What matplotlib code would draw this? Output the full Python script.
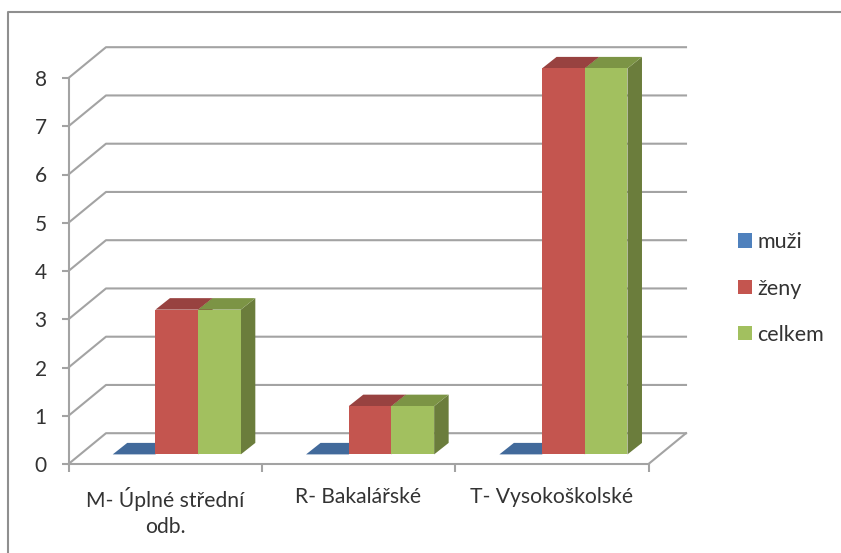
import matplotlib
matplotlib.use("Agg")
import matplotlib.pyplot as plt
from matplotlib.patches import Polygon, Patch
from matplotlib.lines import Line2D

categories = ["M- Úplné střední\nodb.", "R- Bakalářské", "T- Vysokoškolské"]
series_names = ["muži", "ženy", "celkem"]
muzi = [0, 0, 0]
zeny = [3, 1, 8]
celkem = [3, 1, 8]
y_ticks = [0, 1, 2, 3, 4, 5, 6, 7, 8]

front_c = ["#4F81BD", "#C4554F", "#A2C05F"]
top_c = ["#426A9B", "#984240", "#7C9445"]
side_c = ["#3A5F8C", "#8E3C3A", "#6B7D3C"]
line_c = "#A3A3A3"
text_c = "#333333"

plt.rcParams["font.family"] = ["Lato", "DejaVu Sans"]
W, H = 841, 553
fig = plt.figure(figsize=(W / 100, H / 100), dpi=100, facecolor="white")
L, R, B, T = 68.5, 648.5, 464.0, 78.0
ax = fig.add_axes([L / W, 1 - B / H, (R - L) / W, (B - T) / H])
ax.set_xlim(0, 3)
ax.set_ylim(0, 8)
ax.patch.set_visible(False)

px_x = 3 / (R - L)
px_y = 8 / (B - T)
wall_dx, wall_dy = 37.5 * px_x, 30.8 * px_y
bar_off_x, bar_off_y = 11.6 * px_x, 9.6 * px_y
depth_x, depth_y = 14.5 * px_x, 11.5 * px_y
bar_w = 42.7 * px_x
lw = 1.5

# gridlines and left wall
for v in y_ticks:
    ax.plot([0, wall_dx, 3 + wall_dx], [v, v + wall_dy, v + wall_dy],
            color=line_c, lw=lw, clip_on=False, zorder=1, solid_joinstyle="round")
ax.plot([3, 3 + wall_dx], [0, wall_dy], color=line_c, lw=lw, clip_on=False, zorder=1)

# bars
for s, vals in enumerate([muzi, zeny, celkem]):
    for c, v in enumerate(vals):
        x0 = c + 0.5 + bar_off_x + (s - 1.5) * bar_w
        x1 = x0 + bar_w
        y0 = bar_off_y
        y1 = y0 + v
        kw = dict(clip_on=False, zorder=3 + s, lw=0)
        ax.add_patch(Polygon([(x1, y0), (x1 + depth_x, y0 + depth_y),
                              (x1 + depth_x, y1 + depth_y), (x1, y1)],
                             fc=side_c[s], **kw))
        ax.add_patch(Polygon([(x0, y1), (x1, y1), (x1 + depth_x, y1 + depth_y),
                              (x0 + depth_x, y1 + depth_y)], fc=top_c[s], **kw))
        if v > 0:
            ax.add_patch(Polygon([(x0, y0), (x1, y0), (x1, y1), (x0, y1)],
                                 fc=front_c[s], **kw))

for sp in ("top", "right"):
    ax.spines[sp].set_visible(False)
for sp in ("left", "bottom"):
    ax.spines[sp].set_color(line_c)
    ax.spines[sp].set_linewidth(lw)
    ax.spines[sp].set_zorder(2)

ax.set_yticks(y_ticks)
ax.set_xticks([0, 1, 2, 3])
ax.set_xticks([0.5, 1.5, 2.5], minor=True)
ax.set_xticklabels([])
ax.set_xticklabels(categories, minor=True, linespacing=1.4)
ax.tick_params(axis="y", length=4.7, width=lw, color=line_c, labelsize=15,
               labelcolor=text_c, pad=11)
ax.tick_params(axis="x", which="major", length=5.4, width=lw, color=line_c)
ax.tick_params(axis="x", which="minor", length=0, labelsize=15.2,
               labelcolor=text_c, pad=16.5)

handles = [Patch(fc=c, ec="none") for c in front_c]
fig.legend(handles, series_names, loc="center left",
           bbox_to_anchor=(738 / W, 1 - 288.5 / H), frameon=False,
           fontsize=15.5, labelcolor=text_c, handlelength=0.65, handleheight=0.65,
           handletextpad=0.25, labelspacing=1.22, borderpad=0, borderaxespad=0)

# chart-area outline: top and left edges only reach the image
fig.add_artist(Line2D([8 / W, 8 / W, 1], [0, 1 - 12 / H, 1 - 12 / H],
                      transform=fig.transFigure, color="#8F8F8F", lw=1.5))

fig.savefig("out.png", dpi=100)
